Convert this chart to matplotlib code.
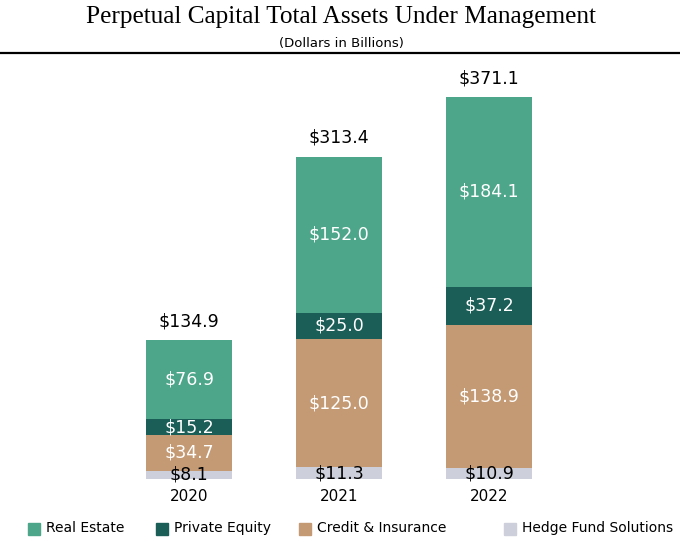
import matplotlib
matplotlib.use("Agg")
import matplotlib.pyplot as plt
from matplotlib.lines import Line2D

years = ["2020", "2021", "2022"]
hedge_fund = [8.1, 11.3, 10.9]
credit_insurance = [34.7, 125.0, 138.9]
private_equity = [15.2, 25.0, 37.2]
real_estate = [76.9, 152.0, 184.1]
totals = [134.9, 313.4, 371.1]

series = [
    ("Hedge Fund Solutions", hedge_fund, "#CDD0DA", "black"),
    ("Credit & Insurance", credit_insurance, "#C49A74", "white"),
    ("Private Equity", private_equity, "#1B5E57", "white"),
    ("Real Estate", real_estate, "#4DA68A", "white"),
]

W, H = 680, 542
fig = plt.figure(figsize=(W / 100, H / 100), dpi=100)
bottom_px, top_px = 479, 60
ax = fig.add_axes([0, 1 - bottom_px / H, 1, (bottom_px - top_px) / H])
ax.set_xlim(-189 / 150, (W - 189) / 150)
ax.set_ylim(0, (bottom_px - top_px) / 1.029)
ax.axis("off")

x = list(range(len(years)))
width = 86 / 150
base = [0.0] * len(years)
for name, vals, color, tcolor in series:
    ax.bar(x, vals, width, bottom=base, color=color, edgecolor="none")
    for i, v in enumerate(vals):
        ax.text(x[i], base[i] + v / 2, f"${v:.1f}", ha="center", va="center",
                color=tcolor, fontsize=12.5, family="DejaVu Sans")
    base = [b + v for b, v in zip(base, vals)]

for i, t in enumerate(totals):
    ax.annotate(f"${t:.1f}", (x[i], t), xytext=(0, 7), textcoords="offset points",
                ha="center", va="bottom", fontsize=12.5, color="black")
    ax.annotate(years[i], (x[i], 0), xytext=(0, -7), textcoords="offset points",
                ha="center", va="top", fontsize=11, color="black")

fig.text(341 / W, 1 - 17 / H, "Perpetual Capital Total Assets Under Management",
         ha="center", va="center", fontsize=18.2, family="Liberation Serif")
fig.text(341 / W, 1 - 44 / H, "(Dollars in Billions)", ha="center", va="center",
         fontsize=9.5)
fig.add_artist(Line2D([0, 1], [1 - 53 / H, 1 - 53 / H], color="black", lw=1.6,
                      transform=fig.transFigure))

legend_items = [("Real Estate", "#4DA68A", 28), ("Private Equity", "#1B5E57", 156),
                ("Credit & Insurance", "#C49A74", 299), ("Hedge Fund Solutions", "#CDD0DA", 504)]
for label, color, px in legend_items:
    fig.patches.append(plt.Rectangle((px / W, 1 - 535 / H), 12 / W, 12 / H,
                                     color=color, transform=fig.transFigure))
    fig.text((px + 18) / W, 1 - 528 / H, label, ha="left", va="center", fontsize=10)

fig.savefig("out.png", dpi=100)
